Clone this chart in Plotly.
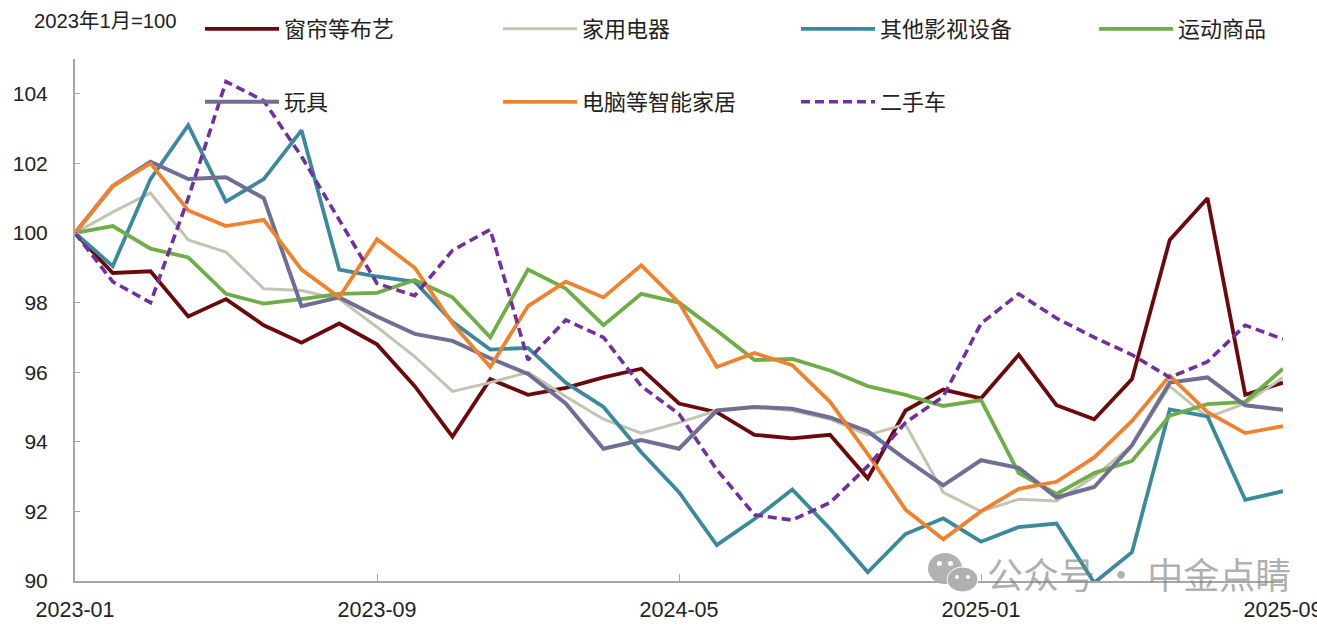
import plotly.graph_objects as go

months = [f"{y}-{m:02d}" for y in (2023, 2024, 2025) for m in range(1, 13)][:33]
tick_labels = ["2023-01", "2023-09", "2024-05", "2025-01", "2025-09"]
y_ticks = [90, 92, 94, 96, 98, 100, 102, 104]

curtains = [100, 98.85, 98.9, 97.6, 98.1, 97.35, 96.85, 97.4, 96.8, 95.6, 94.15, 95.8, 95.35, 95.55, 95.85, 96.1, 95.1, 94.85, 94.2, 94.1, 94.2, 92.95, 94.9, 95.5, 95.25, 96.5, 95.05, 94.65, 95.8, 99.8, 101.0, 95.35, 95.7]
appliances = [100, 100.6, 101.15, 99.8, 99.45, 98.4, 98.35, 98.1, 97.3, 96.45, 95.45, 95.7, 96.0, 95.3, 94.65, 94.25, 94.55, 94.9, 95.0, 94.9, 94.65, 94.2, 94.5, 92.55, 92.0, 92.35, 92.3, 93.0, 93.9, 95.6, 94.7, 95.1, 95.85]
video = [100, 99.05, 101.55, 103.1, 100.9, 101.55, 102.95, 98.95, 98.75, 98.6, 97.45, 96.65, 96.7, 95.7, 95.0, 93.7, 92.55, 91.03, 91.78, 92.63, 91.5, 90.25, 91.35, 91.8, 91.13, 91.55, 91.65, 89.95, 90.83, 94.93, 94.73, 92.33, 92.58]
sports = [100, 100.2, 99.55, 99.3, 98.25, 97.97, 98.1, 98.25, 98.28, 98.65, 98.15, 97.0, 98.95, 98.4, 97.35, 98.25, 98.0, 97.2, 96.35, 96.38, 96.05, 95.6, 95.35, 95.03, 95.2, 93.1, 92.5, 93.1, 93.45, 94.75, 95.08, 95.15, 96.1]
toys = [100, 101.35, 102.05, 101.55, 101.6, 101.0, 97.9, 98.15, 97.6, 97.1, 96.9, 96.4, 95.95, 95.1, 93.8, 94.05, 93.8, 94.9, 95.0, 94.95, 94.7, 94.3, 93.5, 92.75, 93.47, 93.25, 92.4, 92.7, 93.9, 95.7, 95.85, 95.05, 94.92]
computers = [100, 101.35, 102.0, 100.65, 100.2, 100.38, 98.95, 98.15, 99.82, 99.0, 97.4, 96.15, 97.9, 98.6, 98.15, 99.07, 98.0, 96.15, 96.55, 96.2, 95.15, 93.65, 92.05, 91.2, 92.0, 92.65, 92.85, 93.55, 94.6, 95.9, 94.85, 94.25, 94.45]
used_cars = [100, 98.6, 98.0, 101.0, 104.35, 103.8, 102.2, 100.4, 98.55, 98.2, 99.5, 100.1, 96.35, 97.5, 97.0, 95.6, 94.8, 93.2, 91.9, 91.75, 92.25, 93.3, 94.55, 95.3, 97.4, 98.25, 97.55, 97.0, 96.5, 95.85, 96.3, 97.35, 96.95]

W, H = 1317, 630
L, T = 75, 59
R, B = W - 1283, H - 581
PW, PH = W - L - R, H - T - B
CJK = "Noto Sans CJK SC"
LAT = "Liberation Sans"
TXT = "#222222"


def fx(px):
    return (px - L) / PW


def fy(py):
    return 1 - (py - T) / PH


fig = go.Figure()
series = [
    ("窗帘等布艺", curtains, "#6b0a0c", 3.8, "solid", "legend"),
    ("家用电器", appliances, "#c3c3b4", 3, "solid", "legend"),
    ("其他影视设备", video, "#3a8a9c", 3.8, "solid", "legend"),
    ("运动商品", sports, "#70ad47", 3.8, "solid", "legend"),
    ("玩具", toys, "#6e6f92", 4, "solid", "legend2"),
    ("电脑等智能家居", computers, "#f0822f", 3.8, "solid", "legend2"),
    ("二手车", used_cars, "#7030a0", 3.6, "9px,5px", "legend2"),
]
for name, vals, color, width, dash, leg in series:
    fig.add_trace(go.Scatter(x=months, y=vals, name=name, mode="lines", legend=leg,
                             line=dict(color=color, width=width, dash=dash)))


def legend_cfg(y_px):
    return dict(orientation="h", xref="paper", yref="paper", xanchor="left", yanchor="middle",
                x=fx(200), y=fy(y_px),
                entrywidth=209, entrywidthmode="pixels", itemwidth=74,
                bgcolor="rgba(0,0,0,0)", borderwidth=0, traceorder="normal",
                font=dict(family=CJK, size=22, color=TXT),
                itemclick=False, itemdoubleclick=False)


axis_color = "#a6a6a6"
fig.update_layout(
    width=W, height=H, margin=dict(l=L, r=R, t=T, b=B, pad=0, autoexpand=False),
    paper_bgcolor="white", plot_bgcolor="white", showlegend=True,
    legend=legend_cfg(29), legend2=legend_cfg(102),
    font=dict(family=LAT, size=21, color=TXT),
    xaxis=dict(type="category", categoryorder="array", categoryarray=months, range=[0, 32],
               tickmode="array", tickvals=tick_labels, ticktext=tick_labels,
               ticks="inside", ticklen=7, tickwidth=1, tickcolor=axis_color,
               ticklabelstandoff=8,
               showline=True, linecolor=axis_color, linewidth=2, showgrid=False, zeroline=False,
               tickangle=0, tickfont=dict(family=LAT, size=21.5, color=TXT)),
    yaxis=dict(range=[90, 105], tickmode="array", tickvals=y_ticks,
               ticks="inside", ticklen=5, tickwidth=1, tickcolor=axis_color,
               ticklabelstandoff=21,
               showline=True, linecolor=axis_color, linewidth=2, showgrid=False, zeroline=False,
               tickfont=dict(family=LAT, size=21, color=TXT)),
    annotations=[
        dict(text="2023年1月=100", xref="paper", yref="paper", x=fx(32),
             y=fy(21), xanchor="left", yanchor="middle", showarrow=False,
             font=dict(family=LAT + ", " + CJK, size=20.3, color=TXT)),
        dict(text="公众号 · 中金点睛", xref="paper", yref="paper", x=fx(985),
             y=fy(573), xanchor="left", yanchor="middle", showarrow=False,
             font=dict(family=CJK, size=36, color="rgba(130,130,130,0.65)")),
    ],
)


def blob(x0, y0, x1, y1, fill, edge=None):
    return dict(type="circle", xref="paper", yref="paper", layer="above",
                x0=fx(x0), x1=fx(x1), y0=fy(y0), y1=fy(y1), fillcolor=fill,
                line=dict(width=1 if edge else 0, color=edge or "rgba(0,0,0,0)"))


logo_fill = "rgba(170,170,170,0.9)"
fig.update_layout(shapes=[
    blob(928, 553, 962, 584, logo_fill),
    blob(937, 561, 942, 566, "white"),
    blob(948, 561, 953, 566, "white"),
    blob(947, 567, 978, 592, "rgb(175,175,175)", "white"),
    blob(955, 575, 959, 579, "white"),
    blob(966, 575, 970, 579, "white"),
])
fig.write_html("out.html", config={"displayModeBar": False},
               post_script="document.body.style.margin='0';document.body.style.overflow='hidden';")
